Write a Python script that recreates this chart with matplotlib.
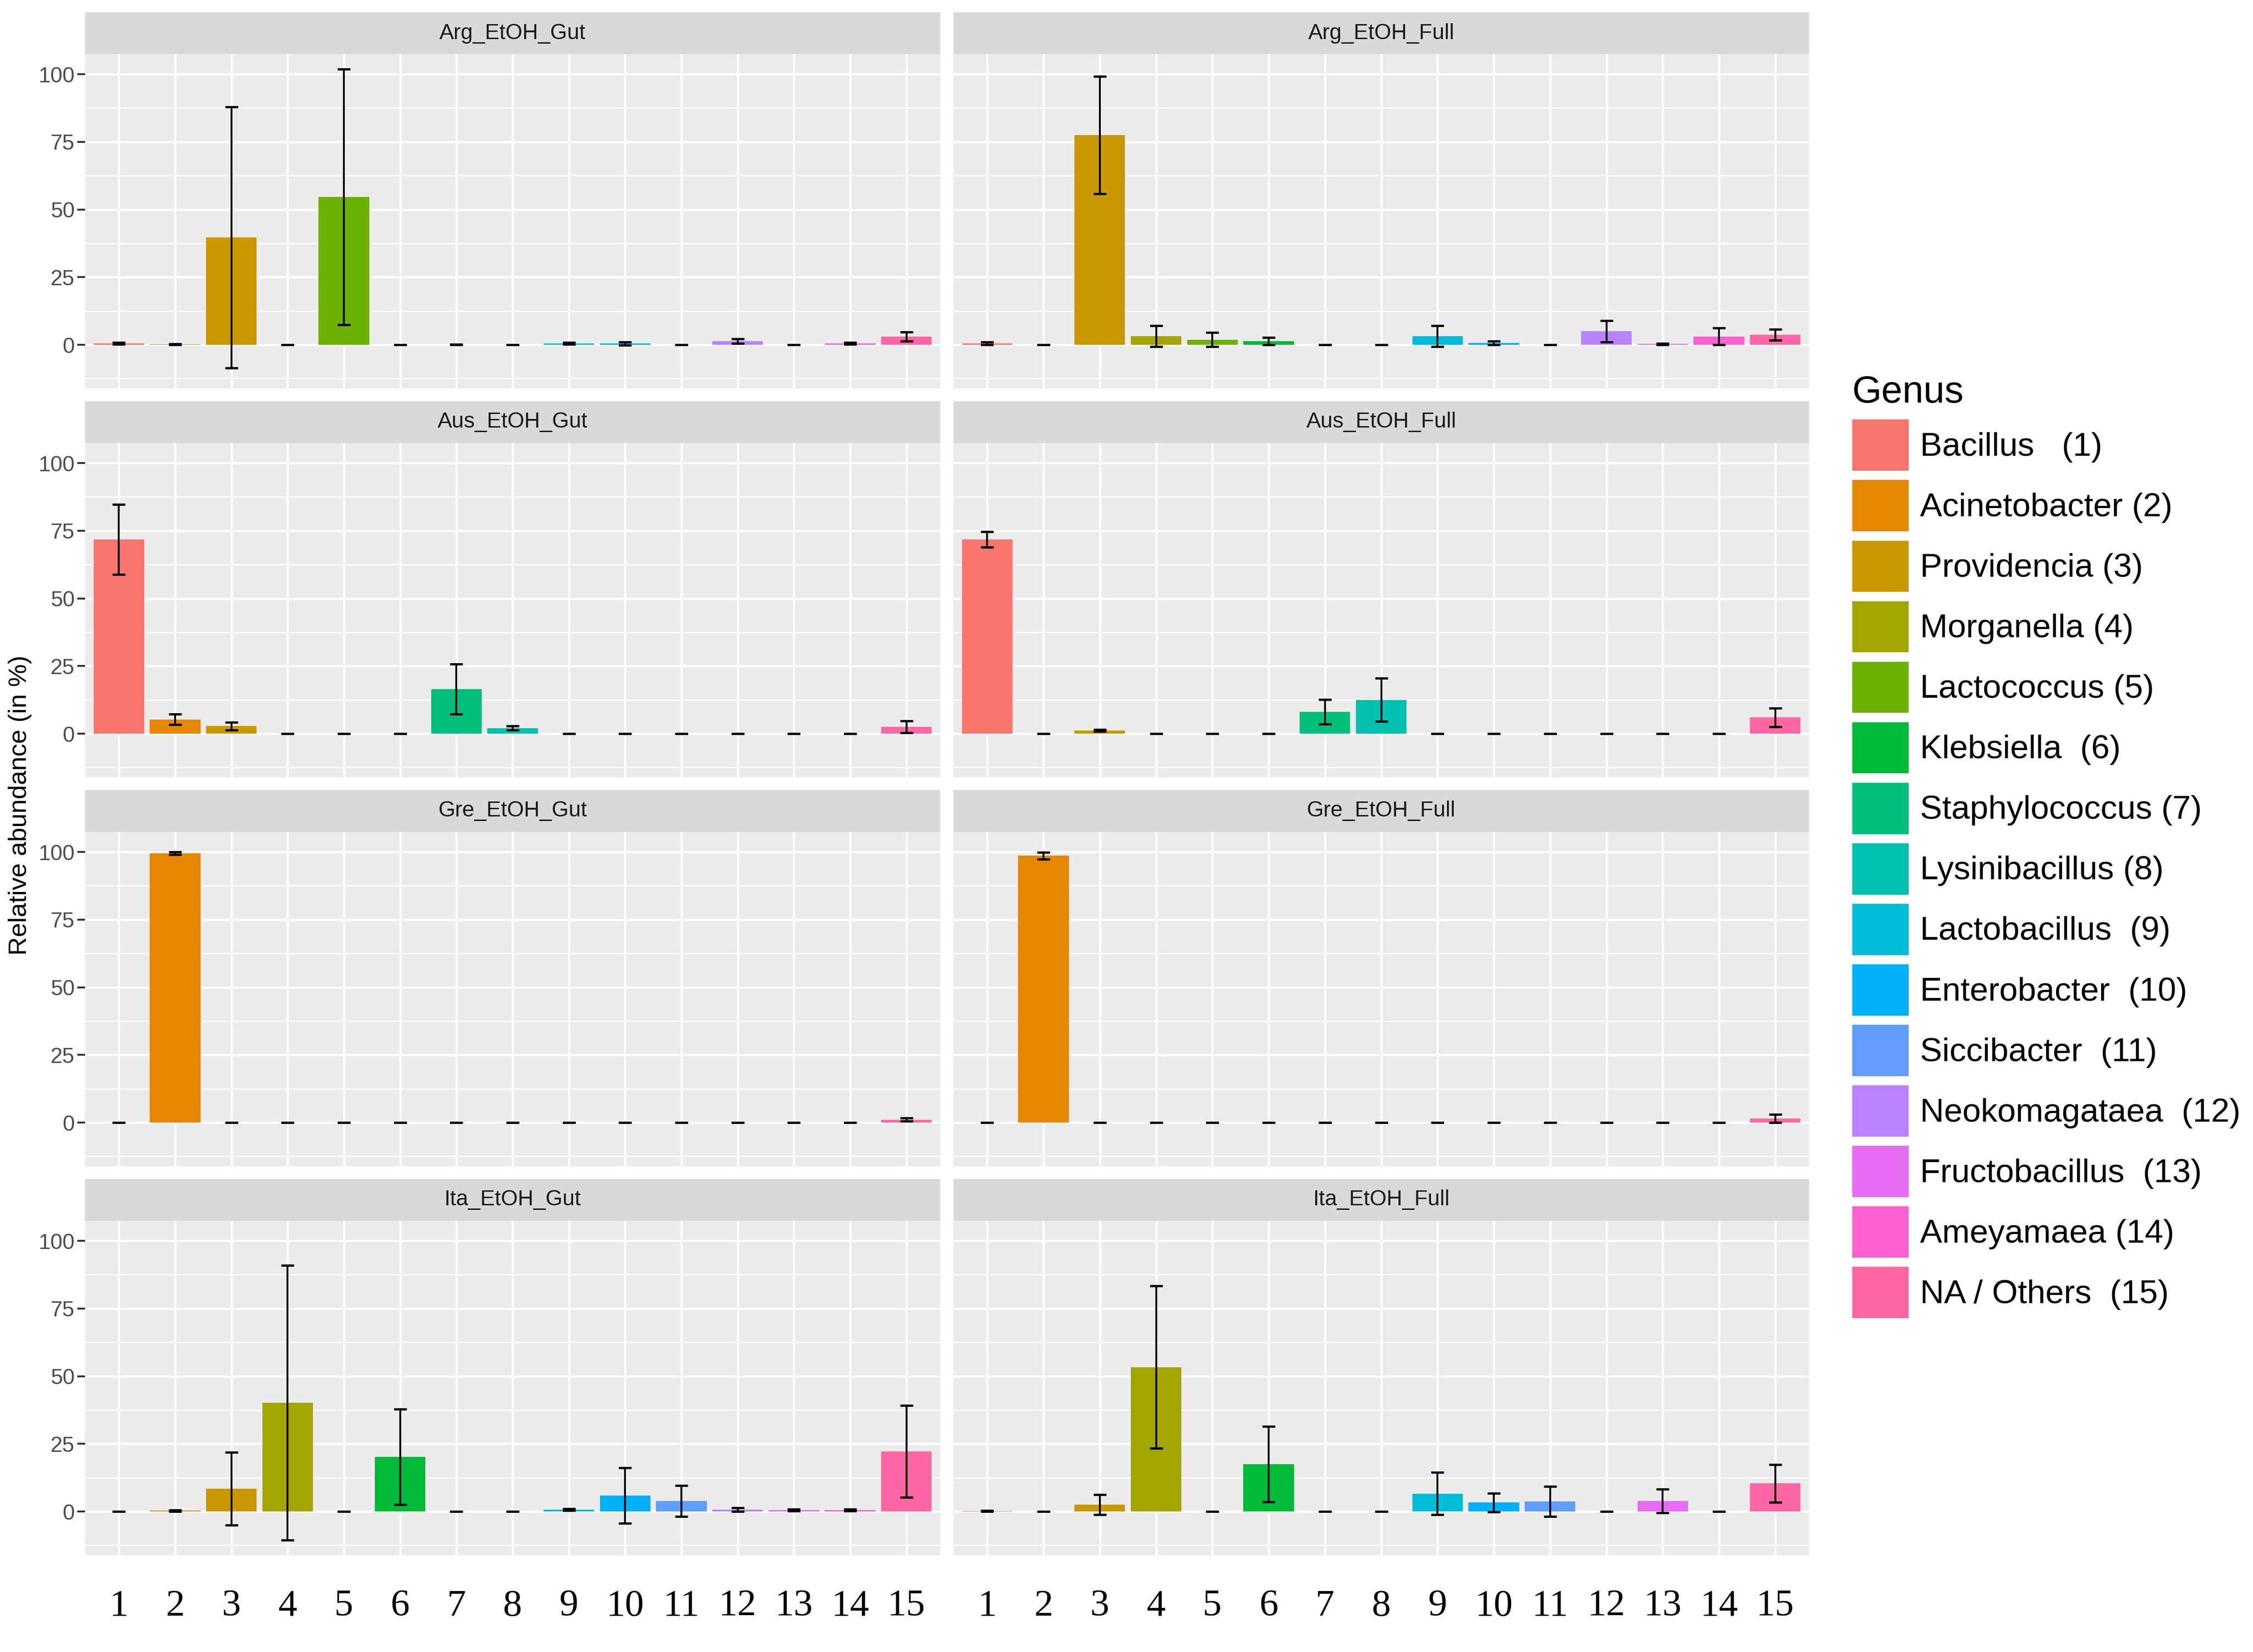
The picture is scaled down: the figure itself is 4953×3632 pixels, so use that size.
"""
Relative abundance of bacterial genera per sample, faceted bar chart.
"""

import numpy as np
import matplotlib.pyplot as plt
from matplotlib.patches import Patch
from matplotlib.ticker import MultipleLocator

plt.rcParams['font.family'] = ['Liberation Sans', 'DejaVu Sans']

# genus order and ggplot hue colours
genera = ['Bacillus', 'Acinetobacter', 'Providencia', 'Morganella', 'Lactococcus',
          'Klebsiella', 'Staphylococcus', 'Lysinibacillus', 'Lactobacillus',
          'Enterobacter', 'Siccibacter', 'Neokomagataea', 'Fructobacillus',
          'Ameyamaea', 'NA / Others']
legend_labels = ['Bacillus   (1)', 'Acinetobacter (2)', 'Providencia (3)', 'Morganella (4)',
                 'Lactococcus (5)', 'Klebsiella  (6)', 'Staphylococcus (7)',
                 'Lysinibacillus (8)', 'Lactobacillus  (9)', 'Enterobacter  (10)',
                 'Siccibacter  (11)', 'Neokomagataea  (12)', 'Fructobacillus  (13)',
                 'Ameyamaea (14)', 'NA / Others  (15)']
colors = ['#F8766D', '#E58700', '#C99800', '#A3A500', '#6BB100', '#00BA38', '#00BF7D',
          '#00C0AF', '#00BCD8', '#00B0F6', '#619CFF', '#B983FF', '#E76BF3', '#FD61D1',
          '#FF67A4']
positions = list(range(1, 16))
tick_labels = [str(p) for p in positions]

panel_names = ['Arg_EtOH_Gut', 'Arg_EtOH_Full', 'Aus_EtOH_Gut', 'Aus_EtOH_Full',
               'Gre_EtOH_Gut', 'Gre_EtOH_Full', 'Ita_EtOH_Gut', 'Ita_EtOH_Full']

# mean relative abundance (%) and standard deviation, genus 1..15
arg_gut = [0.5, 0.2, 39.7, 0, 54.6, 0, 0.1, 0, 0.5, 0.5, 0, 1.4, 0, 0.5, 3.0]
arg_gut_sd = [0.3, 0.2, 48.3, 0, 47.2, 0, 0.1, 0, 0.3, 0.6, 0, 0.8, 0, 0.3, 1.7]
arg_full = [0.5, 0, 77.5, 3.2, 1.9, 1.4, 0, 0, 3.2, 0.7, 0, 5.0, 0.3, 3.1, 3.7]
arg_full_sd = [0.5, 0, 21.6, 3.9, 2.6, 1.3, 0, 0, 3.9, 0.6, 0, 3.9, 0.2, 3.1, 2.0]
aus_gut = [71.8, 5.3, 2.8, 0, 0, 0, 16.5, 2.1, 0, 0, 0, 0, 0, 0, 2.6]
aus_gut_sd = [13.0, 2.0, 1.4, 0, 0, 0, 9.2, 0.8, 0, 0, 0, 0, 0, 0, 2.2]
aus_full = [71.8, 0, 1.2, 0, 0, 0, 8.1, 12.5, 0, 0, 0, 0, 0, 0, 6.0]
aus_full_sd = [2.9, 0, 0.3, 0, 0, 0, 4.6, 8.0, 0, 0, 0, 0, 0, 0, 3.4]
gre_gut = [0, 99.5, 0, 0, 0, 0, 0, 0, 0, 0, 0, 0, 0, 0, 1.1]
gre_gut_sd = [0, 0.5, 0, 0, 0, 0, 0, 0, 0, 0, 0, 0, 0, 0, 0.6]
gre_full = [0, 98.6, 0, 0, 0, 0, 0, 0, 0, 0, 0, 0, 0, 0, 1.6]
gre_full_sd = [0, 1.3, 0, 0, 0, 0, 0, 0, 0, 0, 0, 0, 0, 0, 1.5]
ita_gut = [0, 0.3, 8.4, 40.2, 0, 20.2, 0, 0, 0.7, 5.9, 3.9, 0.7, 0.5, 0.5, 22.2]
ita_gut_sd = [0, 0.2, 13.5, 50.7, 0, 17.7, 0, 0, 0.3, 10.2, 5.7, 0.6, 0.3, 0.3, 17.0]
ita_full = [0.2, 0, 2.5, 53.3, 0, 17.5, 0, 0, 6.6, 3.3, 3.7, 0, 3.9, 0, 10.4]
ita_full_sd = [0.1, 0, 3.7, 30.0, 0, 14.0, 0, 0, 7.8, 3.5, 5.6, 0, 4.4, 0, 7.0]

means = [arg_gut, arg_full, aus_gut, aus_full, gre_gut, gre_full, ita_gut, ita_full]
sds = [arg_gut_sd, arg_full_sd, aus_gut_sd, aus_full_sd, gre_gut_sd, gre_full_sd,
       ita_gut_sd, ita_full_sd]

# shared y range like ggplot (5% expansion)
lows = [np.min(np.array(m) - np.array(s)) for m, s in zip(means, sds)]
highs = [np.max(np.array(m) + np.array(s)) for m, s in zip(means, sds)]
lo, hi = min(lows), max(highs)
pad = 0.05 * (hi - lo)
YLIM = (lo - pad, hi + pad)

# layout in pixels
W, H = 4953, 3632
COL_X = [(187, 2067), (2096, 3977)]
ROW_TOP = [27, 882, 1737, 2592]
STRIP_H = 92
PANEL_H = 735

fig = plt.figure(figsize=(W / 300, H / 300), dpi=300)

for i, name in enumerate(panel_names):
    r, c = divmod(i, 2)
    x0, x1 = COL_X[c]
    top = ROW_TOP[r]

    strip = fig.add_axes([x0 / W, 1 - (top + STRIP_H) / H, (x1 - x0) / W, STRIP_H / H])
    strip.set_facecolor('#D9D9D9')
    strip.set_xticks([])
    strip.set_yticks([])
    for s in strip.spines.values():
        s.set_visible(False)
    strip.text(0.5, 0.5, name, ha='center', va='center', fontsize=11.5,
               color='#1A1A1A', transform=strip.transAxes)

    ax = fig.add_axes([x0 / W, 1 - (top + STRIP_H + PANEL_H) / H, (x1 - x0) / W, PANEL_H / H])
    ax.set_facecolor('#EBEBEB')
    for s in ax.spines.values():
        s.set_visible(False)

    ax.bar(positions, means[i], width=0.9, color=colors, zorder=2)
    ax.errorbar(positions, means[i], yerr=sds[i], fmt='none', ecolor='black',
                elinewidth=1.0, capsize=3.4, capthick=1.2, zorder=3)

    ax.set_xlim(0.4, 15.6)
    ax.set_ylim(*YLIM)
    ax.set_xticks(positions)
    ax.yaxis.set_major_locator(MultipleLocator(25))
    ax.yaxis.set_minor_locator(MultipleLocator(12.5))
    ax.grid(which='major', color='white', linewidth=1.1, zorder=0)
    ax.grid(which='minor', axis='y', color='white', linewidth=0.6, zorder=0)
    ax.set_axisbelow(True)

    ax.tick_params(axis='x', length=0, which='both')
    ax.tick_params(axis='y', which='minor', length=0)
    if c == 0:
        ax.tick_params(axis='y', which='major', length=4, width=1.0, color='#333333',
                       labelsize=11.5, labelcolor='#4D4D4D', pad=1.5)
    else:
        ax.tick_params(axis='y', which='major', length=0, labelleft=False)

    if r == 3:
        ax.set_xticklabels(tick_labels, fontsize=20, family=['Liberation Serif', 'DejaVu Serif'])
        ax.tick_params(axis='x', pad=18)
    else:
        ax.set_xticklabels([])

fig.text(44 / W, 1 - 1770 / H, 'Relative abundance (in %)', rotation=90,
         ha='center', va='center', fontsize=13.5)

handles = [Patch(facecolor=col, edgecolor='none') for col in colors]
fig.legend(handles, legend_labels, loc='upper left', bbox_to_anchor=(4072 / W, 1 - 824 / H),
           frameon=False, title='Genus', fontsize=17.5, title_fontsize=20,
           handlelength=1.7, handleheight=2.0, labelspacing=0.28, handletextpad=0.35,
           borderpad=0, borderaxespad=0, alignment='left')

fig.savefig('out.png', dpi=300, facecolor='white')
